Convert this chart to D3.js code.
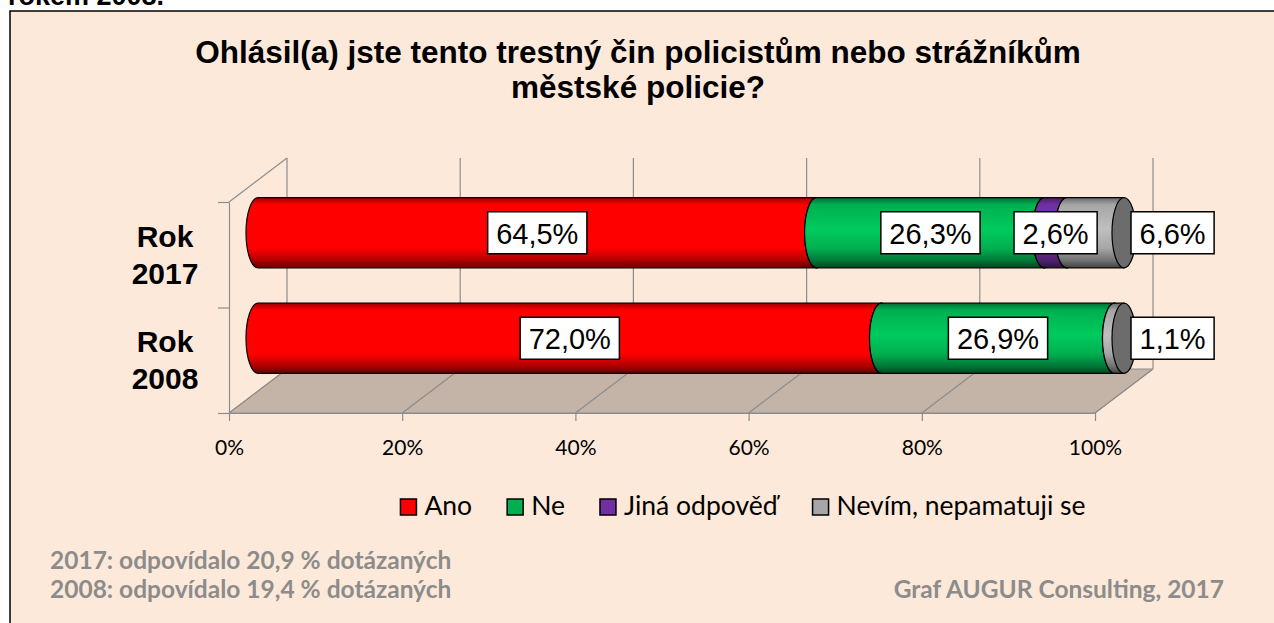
<!DOCTYPE html>
<html>
<head>
<meta charset="utf-8">
<script src="https://cdn.jsdelivr.net/npm/d3@7"></script>
<style>
  html, body { margin: 0; padding: 0; background: #fff; overflow: hidden; }
  svg { display: block; }
  .serif { font-family: "Liberation Sans", Arial, sans-serif; }
  .cal { font-family: Lato, "Open Sans", sans-serif; }
</style>
</head>
<body>
<svg id="chart" width="1274" height="623"></svg>
<script>
// data
const titleLines = ["Ohlásil(a) jste tento trestný čin policistům nebo strážníkům", "městské policie?"];
const categories = ["Rok 2017", "Rok 2008"];
const seriesNames = ["Ano", "Ne", "Jiná odpověď", "Nevím, nepamatuji se"];
const seriesColors = ["#ff0000", "#00b050", "#7030a0", "#a6a6a6"];
const values2017 = [64.5, 26.3, 2.6, 6.6];
const values2008 = [72.0, 26.9, 0, 1.1];
const xTicks = [0, 20, 40, 60, 80, 100];
const notesLeft = ["2017: odpovídalo 20,9 % dotázaných", "2008: odpovídalo 19,4 % dotázaných"];
const noteRight = "Graf AUGUR Consulting, 2017";
const cutHeading = "rokem 2008.";

const W = 1274, H = 623;
const svg = d3.select("#chart");
const defs = svg.append("defs");

// rámeček grafu
svg.append("text").attr("class", "serif").attr("x", 8).attr("y", 5)
  .attr("font-size", 27).attr("font-weight", "bold").text(cutHeading);
svg.append("rect").attr("x", 10).attr("y", 11).attr("width", W).attr("height", H)
  .attr("fill", "#fde9d9").attr("stroke", "#000").attr("stroke-width", 1.5);

// titulek
svg.append("text").attr("class", "serif")
  .attr("x", 638).attr("y", 63).attr("text-anchor", "middle")
  .attr("font-size", 31.5).attr("font-weight", "bold").attr("fill", "#000")
  .selectAll("tspan").data(titleLines).join("tspan")
  .attr("x", 638).attr("dy", (d, i) => i ? 35 : 0).text(d => d);

// 3D geometrie
const depth = { dx: 58, dy: -44 };
const x = d3.scaleLinear().domain([0, 100]).range([229, 1095]);
const xm = d3.scaleLinear().domain([0, 100]).range([229 + depth.dx / 2, 1095 + depth.dx / 2]);
const y = d3.scaleBand().domain(categories).range([202, 413]).paddingInner(0.336).paddingOuter(0.168);
const yEdge = d3.scaleLinear().domain([0, categories.length]).range([413, 202]);
const yTop = 202, yBot = 413;
const gridColor = "#8c8c8c";

// podlaha
const floor = svg.append("g");
floor.append("path")
  .attr("d", `M${x(0)},${yBot}L${x(100)},${yBot}L${x(100) + depth.dx},${yBot + depth.dy}L${x(0) + depth.dx},${yBot + depth.dy}Z`)
  .attr("fill", "#c4b4a8").attr("stroke", gridColor).attr("stroke-width", 1);
floor.selectAll("line").data(xTicks).join("line")
  .attr("x1", d => x(d)).attr("y1", yBot)
  .attr("x2", d => x(d) + depth.dx).attr("y2", yBot + depth.dy)
  .attr("stroke", gridColor).attr("stroke-width", 1.2);

// zadní stěna - mřížka
svg.append("g").selectAll("line").data(xTicks).join("line")
  .attr("x1", d => x(d) + depth.dx).attr("x2", d => x(d) + depth.dx)
  .attr("y1", yTop + depth.dy).attr("y2", yBot + depth.dy)
  .attr("stroke", gridColor).attr("stroke-width", 1.2);

// levá stěna
svg.append("line")
  .attr("x1", x(0)).attr("y1", yTop).attr("x2", x(0) + depth.dx).attr("y2", yTop + depth.dy)
  .attr("stroke", gridColor).attr("stroke-width", 1.2);

// osa x
const xAxis = svg.append("g").attr("class", "cal").attr("transform", `translate(0,${yBot})`)
  .call(d3.axisBottom(x).tickValues(xTicks).tickFormat(d => d + "%").tickSize(8).tickSizeOuter(0).tickPadding(19));
xAxis.selectAll("path, line").attr("stroke", gridColor).attr("stroke-width", 1.2);
xAxis.selectAll("text").attr("font-size", 21).attr("fill", "#000").attr("font-family", null);

// osa y
const yAxis = svg.append("g").attr("transform", `translate(${x(0)},0)`)
  .call(d3.axisLeft(yEdge).tickValues(d3.range(categories.length + 1)).tickFormat("").tickSize(11).tickSizeOuter(0));
yAxis.selectAll("path, line").attr("stroke", gridColor).attr("stroke-width", 1.2);

// popisky kategorií
svg.append("g").attr("class", "serif").selectAll("text").data(categories).join("text")
  .attr("text-anchor", "middle").attr("font-size", 30).attr("font-weight", "bold")
  .attr("transform", d => `translate(165,${y(d) + y.bandwidth() / 2})`)
  .selectAll("tspan").data(d => d.split(" ")).join("tspan")
  .attr("x", 0).attr("y", (d, i) => i ? 29 : -8).text(d => d);

// gradienty válců
seriesColors.forEach((c, i) => {
  const base = d3.color(c);
  const g = defs.append("linearGradient").attr("id", "grad" + i)
    .attr("x1", 0).attr("y1", 0).attr("x2", 0).attr("y2", 1);
  [[0, base.darker(1.3)], [0.1, base], [0.45, base.brighter(0.4)], [0.72, base],
   [0.9, base.darker(1.1)], [1, base.darker(2.6)]]
    .forEach(([o, col]) => g.append("stop").attr("offset", o).attr("stop-color", col.formatHex()));
});

// válcové pruhy
const rows = categories.map((c, i) => {
  const vals = i === 0 ? values2017 : values2008;
  const row = { cat: c };
  seriesNames.forEach((s, j) => row[s] = vals[j]);
  return row;
});
const stacked = d3.stack().keys(seriesNames)(rows);
const locale = d3.formatLocale({ decimal: ",", thousands: " ", grouping: [3], currency: ["", " Kč"] });
const fmt = locale.format(".1f");

const bh = y.bandwidth();
const rx = 12, ry = bh / 2;
const bars = svg.append("g");
const labels = [];

rows.forEach((row, ri) => {
  const top = y(row.cat) + depth.dy / 2;
  const bottom = top + bh;
  const mid = top + ry;
  const g = bars.append("g");
  stacked.forEach((layer, si) => {
    const [v0, v1] = layer[ri];
    if (v1 - v0 <= 0) return;
    const x0 = xm(v0), x1 = xm(v1);
    g.append("path")
      .attr("d", `M${x0},${top}A${rx},${ry} 0 0 0 ${x0},${bottom}L${x1},${bottom}L${x1},${top}Z`)
      .attr("fill", `url(#grad${si})`).attr("stroke", "#000").attr("stroke-width", 1.2);
    g.append("ellipse").attr("cx", x1).attr("cy", mid).attr("rx", rx).attr("ry", ry)
      .attr("fill", d3.color(seriesColors[si]).darker(1.2).formatHex())
      .attr("stroke", "#000").attr("stroke-width", 1.2);
    const outside = si === seriesNames.length - 1;
    labels.push({ text: fmt(v1 - v0) + "%", cx: outside ? null : (x0 + x1) / 2, left: outside ? xm(100) + 7 : null, cy: mid });
  });
});

// popisky hodnot
const lab = svg.append("g").attr("class", "serif");
labels.forEach(d => {
  const t = lab.append("text").attr("font-size", 29).attr("text-anchor", "middle")
    .attr("dominant-baseline", "central").text(d.text);
  const w = t.node().getComputedTextLength() + 17;
  const cx = d.cx != null ? d.cx : d.left + w / 2;
  t.attr("x", cx).attr("y", d.cy + 1);
  lab.insert("rect", "text").attr("x", cx - w / 2).attr("y", d.cy - 21).attr("width", w).attr("height", 42)
    .attr("fill", "#fff").attr("stroke", "#000").attr("stroke-width", 1.5);
});
lab.selectAll("text").raise();

// legenda
const leg = svg.append("g").attr("class", "cal");
const items = seriesNames.map((s, i) => {
  const gi = leg.append("g");
  gi.append("rect").attr("width", 16).attr("height", 16).attr("y", -16)
    .attr("fill", seriesColors[i]).attr("stroke", "#000").attr("stroke-width", 1.5);
  const t = gi.append("text").attr("x", 24).attr("y", 0).attr("font-size", 26.5).text(s);
  return { g: gi, w: 24 + t.node().getComputedTextLength() };
});
const gap = 35;
const totalW = d3.sum(items, d => d.w) + gap * (items.length - 1);
let lx = 743 - totalW / 2;
items.forEach(d => { d.g.attr("transform", `translate(${lx},515)`); lx += d.w + gap; });

// poznámky
svg.append("g").attr("class", "cal").selectAll("text").data(notesLeft).join("text")
  .attr("x", 50).attr("y", (d, i) => 569 + i * 29)
  .attr("font-size", 24.5).attr("font-weight", "bold").attr("fill", "#8c8c8c").text(d => d);
svg.append("text").attr("class", "cal").attr("x", 1224).attr("y", 598).attr("text-anchor", "end")
  .attr("font-size", 24.5).attr("font-weight", "bold").attr("fill", "#8c8c8c").text(noteRight);
</script>
</body>
</html>
